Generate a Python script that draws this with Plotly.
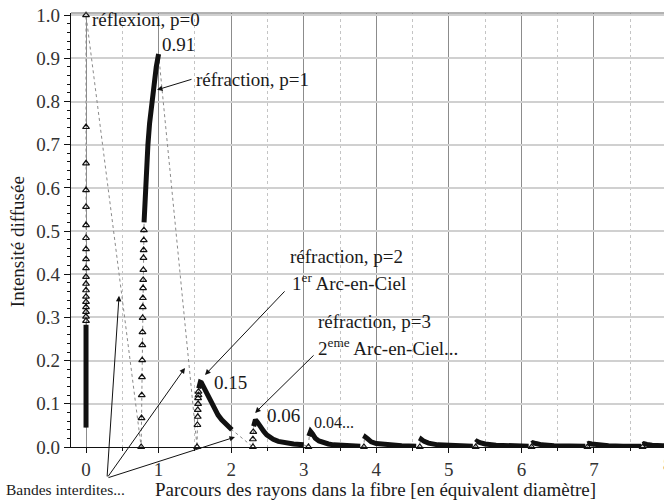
import plotly.graph_objects as go

# ---------------- data ----------------
# p = 0 : reflection, all at path length 0 (ascending order of the path)
refl_dense_y = [0.045, 0.10, 0.16, 0.22, 0.283]
refl_sparse_y = [0.292, 0.302, 0.313, 0.324, 0.336, 0.348, 0.363, 0.378, 0.394,
                 0.414, 0.435, 0.458, 0.484, 0.514, 0.556, 0.595, 0.657, 0.741, 1.0]

# p = 1 : refraction
p1_sparse_x = [0.76, 0.765, 0.768, 0.771, 0.774, 0.776, 0.778, 0.78, 0.782, 0.784,
               0.786, 0.788, 0.79, 0.792, 0.794, 0.796, 0.798]
p1_sparse_y = [0.0, 0.067, 0.12, 0.162, 0.201, 0.236, 0.266, 0.299, 0.324, 0.345,
               0.368, 0.387, 0.41, 0.438, 0.456, 0.479, 0.502]
p1_dense_x = [0.80, 0.81, 0.822, 0.836, 0.853, 0.876, 0.905, 0.94, 0.968, 1.0]
p1_dense_y = [0.52, 0.56, 0.60, 0.65, 0.70, 0.75, 0.80, 0.85, 0.88, 0.91]

# p = 2 : 1er arc-en-ciel
p2_sparse_x = [1.53, 1.535, 1.54, 1.54, 1.545, 1.545, 1.55, 1.55]
p2_sparse_y = [0.0, 0.051, 0.07, 0.086, 0.1, 0.113, 0.12, 0.128]
p2_dense_x = [1.553, 1.56, 1.575, 1.59, 1.615, 1.64, 1.68, 1.73, 1.775, 1.82,
              1.87, 1.92, 1.965, 2.01]
p2_dense_y = [0.136, 0.143, 0.150, 0.149, 0.141, 0.132, 0.117, 0.101, 0.087, 0.074,
              0.063, 0.055, 0.047, 0.04]

# p = 3 : 2eme arc-en-ciel
p3_sparse_x = [2.30, 2.30, 2.305]
p3_sparse_y = [0.0, 0.018, 0.035]
p3_dense_x = [2.31, 2.32, 2.335, 2.36, 2.40, 2.45, 2.49, 2.54, 2.58, 2.65, 2.72, 2.86, 3.0]
p3_dense_y = [0.048, 0.057, 0.063, 0.058, 0.047, 0.036, 0.028, 0.022, 0.018, 0.013,
              0.010, 0.007, 0.005]

# p = 4 ... 10
p4_sparse_x, p4_sparse_y = [3.065], [0.0]
p4_dense_x = [3.07, 3.08, 3.095, 3.12, 3.16, 3.21, 3.27, 3.34, 3.41, 3.55, 3.78]
p4_dense_y = [0.025, 0.033, 0.036, 0.031, 0.02, 0.014, 0.01, 0.007, 0.005, 0.003, 0.002]

p5_sparse_x, p5_sparse_y = [3.83], [0.0]
p5_dense_x = [3.835, 3.85, 3.88, 3.93, 4.0, 4.15, 4.35, 4.55]
p5_dense_y = [0.018, 0.023, 0.019, 0.012, 0.008, 0.005, 0.003, 0.002]

p6_sparse_x, p6_sparse_y = [4.60], [0.0]
p6_dense_x = [4.605, 4.62, 4.66, 4.72, 4.85, 5.05, 5.33]
p6_dense_y = [0.013, 0.018, 0.013, 0.009, 0.005, 0.003, 0.002]

p7_sparse_x, p7_sparse_y = [5.37], [0.0]
p7_dense_x = [5.375, 5.39, 5.43, 5.5, 5.65, 5.85, 6.1]
p7_dense_y = [0.01, 0.013, 0.01, 0.007, 0.004, 0.003, 0.002]

p8_sparse_x, p8_sparse_y = [6.14], [0.0]
p8_dense_x = [6.145, 6.16, 6.2, 6.28, 6.45, 6.65, 6.88]
p8_dense_y = [0.008, 0.01, 0.008, 0.005, 0.003, 0.002, 0.002]

p9_sparse_x, p9_sparse_y = [6.91], [0.0]
p9_dense_x = [6.915, 6.93, 6.97, 7.05, 7.2, 7.4, 7.65]
p9_dense_y = [0.007, 0.0085, 0.007, 0.005, 0.003, 0.002, 0.002]

p10_sparse_x, p10_sparse_y = [7.67], [0.0]
p10_dense_x = [7.675, 7.69, 7.73, 7.8, 7.95, 8.1]
p10_dense_y = [0.006, 0.0075, 0.006, 0.004, 0.003, 0.002]

x_ticks = [0, 1, 2, 3, 4, 5, 6, 7]
y_ticks = [0.0, 0.1, 0.2, 0.3, 0.4, 0.5, 0.6, 0.7, 0.8, 0.9, 1.0]

# ---------------- assemble branches (path order) ----------------
branches = [
    (([0] * len(refl_dense_y), refl_dense_y), ([0] * len(refl_sparse_y), refl_sparse_y), "dense_first"),
    ((p1_sparse_x, p1_sparse_y), (p1_dense_x, p1_dense_y), "sparse_first"),
    ((p2_sparse_x, p2_sparse_y), (p2_dense_x, p2_dense_y), "sparse_first"),
    ((p3_sparse_x, p3_sparse_y), (p3_dense_x, p3_dense_y), "sparse_first"),
    ((p4_sparse_x, p4_sparse_y), (p4_dense_x, p4_dense_y), "sparse_first"),
    ((p5_sparse_x, p5_sparse_y), (p5_dense_x, p5_dense_y), "sparse_first"),
    ((p6_sparse_x, p6_sparse_y), (p6_dense_x, p6_dense_y), "sparse_first"),
    ((p7_sparse_x, p7_sparse_y), (p7_dense_x, p7_dense_y), "sparse_first"),
    ((p8_sparse_x, p8_sparse_y), (p8_dense_x, p8_dense_y), "sparse_first"),
    ((p9_sparse_x, p9_sparse_y), (p9_dense_x, p9_dense_y), "sparse_first"),
    ((p10_sparse_x, p10_sparse_y), (p10_dense_x, p10_dense_y), "sparse_first"),
]

path_x, path_y = [], []
mk_x, mk_y = [], []
dense_x, dense_y = [], []
for first, second, order in branches:
    path_x += list(first[0]) + list(second[0])
    path_y += list(first[1]) + list(second[1])
    if order == "dense_first":
        d, s = first, second
    else:
        s, d = first, second
    mk_x += list(s[0]); mk_y += list(s[1])
    dense_x += list(d[0]) + [None]; dense_y += list(d[1]) + [None]

SERIF = "Liberation Serif, Times New Roman, serif"
TXT = "#1a1a1a"
LBL = 19

fig = go.Figure()
fig.add_trace(go.Scatter(x=path_x, y=path_y, mode="lines",
                         line=dict(color="#8a8a8a", width=1, dash="dot"),
                         hoverinfo="skip", showlegend=False, cliponaxis=False))
fig.add_trace(go.Scatter(x=dense_x, y=dense_y, mode="lines",
                         line=dict(color="#111111", width=5),
                         connectgaps=False, showlegend=False, cliponaxis=False))
fig.add_trace(go.Scatter(x=mk_x, y=mk_y, mode="markers",
                         marker=dict(symbol="triangle-up-open", size=6, color="#111111",
                                     line=dict(width=1.2, color="#111111")),
                         showlegend=False, cliponaxis=False))

fig.update_layout(
    width=664, height=503,
    margin=dict(l=71, r=0, t=13, b=56, autoexpand=False),
    paper_bgcolor="white", plot_bgcolor="white",
    font=dict(family=SERIF, size=LBL, color=TXT),
    xaxis=dict(range=[-0.207, 7.965], tickvals=x_ticks, ticktext=[str(v) for v in x_ticks],
               automargin=False,
               showgrid=True, gridcolor="#8c8c8c", gridwidth=1,
               zeroline=False, showline=True, linecolor="#111111", linewidth=1.2,
               ticks="outside", ticklen=5, tickcolor="#111111",
               tickfont=dict(family=SERIF, size=LBL, color="#333333"),
               minor=dict(dtick=0.5, tick0=0, showgrid=True, gridcolor="#c4c4c4",
                          griddash="dot", gridwidth=1, ticks="outside", ticklen=3,
                          tickcolor="#111111")),
    yaxis=dict(range=[0, 1.005], tickvals=y_ticks, ticktext=[f"{v:.1f}" for v in y_ticks],
               automargin=False,
               showgrid=True, gridcolor="#d0d0d0", gridwidth=1.6,
               zeroline=False, showline=True, linecolor="#111111", linewidth=1.2,
               ticks="outside", ticklen=6, tickcolor="#111111",
               tickfont=dict(family=SERIF, size=LBL, color="#333333"),
               minor=dict(dtick=0.02, tick0=0, showgrid=False, ticks="outside",
                          ticklen=3, tickcolor="#111111")),
)

# top border
fig.add_shape(type="line", xref="paper", yref="paper", x0=0, x1=1, y0=1, y1=1,
              line=dict(color="#666666", width=1))

# partially visible last tick label
fig.add_annotation(xref="paper", yref="paper", x=1.006, y=-0.012, text="8",
                   showarrow=False, xanchor="center", yanchor="top",
                   font=dict(family=SERIF, size=LBL, color="#333333"))

def label(x, y, text, size=LBL, xanchor="left"):
    fig.add_annotation(x=x, y=y, xref="x", yref="y", text=text, showarrow=False,
                       xanchor=xanchor, yanchor="middle",
                       font=dict(family=SERIF, size=size, color=TXT))

label(0.05, 0.990, "réflexion, p=0")
label(1.02, 0.932, "0.91")
label(1.49, 0.852, "réfraction, p=1")
label(2.79, 0.442, "réfraction, p=2")
label(2.81, 0.383, "1<sup>er</sup> Arc-en-Ciel")
label(3.17, 0.290, "réfraction, p=3")
label(3.17, 0.232, "2<sup>eme</sup> Arc-en-Ciel...")
label(1.74, 0.149, "0.15")
label(2.46, 0.074, "0.06")
label(3.11, 0.056, "0.04...", size=16)

def arrow(x, y, ax, ay):
    fig.add_annotation(x=x, y=y, xref="x", yref="y", ax=ax, ay=ay, text="",
                       showarrow=True, arrowhead=2, arrowsize=1.1, arrowwidth=1,
                       arrowcolor="#111111")

arrow(0.978, 0.827, 36, -11)
arrow(1.64, 0.167, 81, -85)
arrow(2.33, 0.079, 60, -59)
arrow(0.455, 0.350, -12, 182)
arrow(1.364, 0.183, -78, 110)
arrow(2.053, 0.023, -128, 41)

fig.add_annotation(xref="paper", yref="paper", x=-0.113, y=-0.099,
                   text="Bandes interdites...", showarrow=False,
                   xanchor="left", yanchor="middle",
                   font=dict(family=SERIF, size=15.5, color=TXT))
fig.add_annotation(xref="paper", yref="paper", x=0.138, y=-0.099,
                   text="Parcours des rayons dans la fibre [en équivalent diamètre]",
                   showarrow=False, xanchor="left", yanchor="middle",
                   font=dict(family=SERIF, size=19, color=TXT))
fig.add_annotation(xref="paper", yref="paper", x=-0.091, y=0.472,
                   text="Intensité diffusée", textangle=-90, showarrow=False,
                   xanchor="center", yanchor="middle",
                   font=dict(family=SERIF, size=19, color=TXT))

fig.write_html("out.html", config={"displayModeBar": False},
               post_script="document.body.style.margin='0px';document.body.style.overflow='hidden';")
